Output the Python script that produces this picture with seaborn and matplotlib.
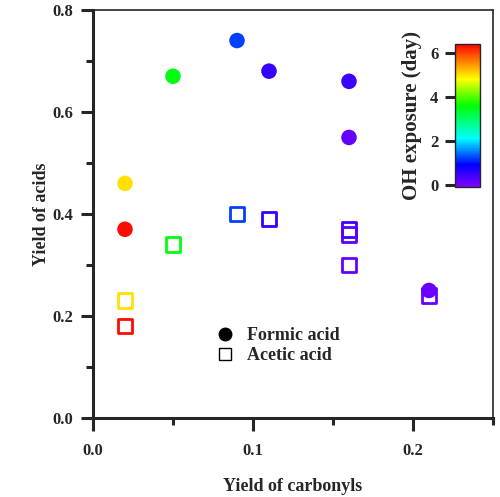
import matplotlib
matplotlib.use("Agg")
import matplotlib.pyplot as plt
from matplotlib.colors import LinearSegmentedColormap, Normalize
from matplotlib.cm import ScalarMappable
from matplotlib.lines import Line2D
import seaborn as sns
import pandas as pd

# formic acid
formic_carbonyl = [0.02, 0.02, 0.05, 0.09, 0.11, 0.16, 0.16, 0.21]
formic_yield = [0.46, 0.37, 0.67, 0.74, 0.68, 0.66, 0.55, 0.25]
formic_exposure = [5.0, 6.3, 3.5, 1.2, 0.5, 0.45, 0.15, 0.1]

# acetic acid
acetic_carbonyl = [0.02, 0.02, 0.05, 0.09, 0.11, 0.16, 0.16, 0.16, 0.21]
acetic_yield = [0.23, 0.18, 0.34, 0.40, 0.39, 0.37, 0.36, 0.30, 0.24]
acetic_exposure = [5.0, 6.3, 3.5, 1.2, 0.5, 0.45, 0.2, 0.15, 0.1]

vmin, vmax = -0.1, 6.4
stops = [(-0.1, "#8000ff"), (0.9, "#0000ff"), (2.1, "#00ffff"),
         (3.6, "#00ff00"), (4.8, "#ffff00"), (5.6, "#ff8000"), (6.4, "#ff0000")]
cmap = LinearSegmentedColormap.from_list(
    "oh", [((v - vmin) / (vmax - vmin), c) for v, c in stops])
norm = Normalize(vmin, vmax)

sns.set_style("ticks")
plt.rcParams["font.family"] = ["Liberation Serif", "DejaVu Serif"]
plt.rcParams["font.weight"] = "bold"

formic = pd.DataFrame({"x": formic_carbonyl, "y": formic_yield, "exp": formic_exposure})
acetic = pd.DataFrame({"x": acetic_carbonyl, "y": acetic_yield, "exp": acetic_exposure})

fig = plt.figure(figsize=(5, 4.97), dpi=100)
ax = fig.add_axes([0.186, 0.159, 0.80, 0.821])

sns.scatterplot(data=acetic, x="x", y="y", hue="exp", palette=cmap, hue_norm=norm,
                marker="s", s=110, linewidth=0, legend=False, ax=ax, zorder=2)
sq = ax.collections[-1]
sq.set_edgecolors(sq.get_facecolors())
sq.set_facecolors("none")
sq.set_linewidths(2.0)

sns.scatterplot(data=formic, x="x", y="y", hue="exp", palette=cmap, hue_norm=norm,
                marker="o", s=125, linewidth=0, legend=False, ax=ax, zorder=3)

ax.set_xlim(0, 0.25)
ax.set_ylim(0, 0.8)
ax.set_xticks([0.0, 0.1, 0.2])
ax.set_xticks([0.05, 0.15, 0.25], minor=True)
ax.set_yticks([0.0, 0.2, 0.4, 0.6, 0.8])
ax.set_yticks([0.1, 0.3, 0.5, 0.7], minor=True)
ax.set_xticklabels(["0.0", "0.1", "0.2"])
ax.set_yticklabels(["0.0", "0.2", "0.4", "0.6", "0.8"])

for side in ["left", "bottom"]:
    ax.spines[side].set_linewidth(2.2)
for side in ["top", "right"]:
    ax.spines[side].set_visible(True)
    ax.spines[side].set_linewidth(1.2)

ax.tick_params(axis="x", which="major", length=9, width=2.2, pad=9, labelsize=12)
ax.tick_params(axis="x", which="minor", length=5, width=2.2)
ax.tick_params(axis="y", which="major", length=9, width=2.2, pad=5, labelsize=12)
ax.tick_params(axis="y", which="minor", length=5, width=2.2)

ax.set_xlabel("Yield of carbonyls", fontsize=13, fontweight="bold", labelpad=14)
ax.set_ylabel("Yield of acids", fontsize=13, fontweight="bold", labelpad=2)

handles = [
    Line2D([], [], marker="o", color="black", linestyle="none", markersize=9),
    Line2D([], [], marker="s", markerfacecolor="none", markeredgecolor="black",
           markeredgewidth=1.0, linestyle="none", markersize=9),
]
ax.legend(handles, ["Formic acid", "Acetic acid"], loc="upper left",
          bbox_to_anchor=(0.262, 0.262), frameon=False, fontsize=13,
          handletextpad=0.6, labelspacing=0.15, handlelength=1.2)

cax = fig.add_axes([0.91, 0.624, 0.05, 0.288])
cb = fig.colorbar(ScalarMappable(norm=norm, cmap=cmap), cax=cax)
cb.set_ticks([0, 2, 4, 6])
cb.outline.set_linewidth(1.0)
cax.yaxis.set_ticks_position("left")
cax.yaxis.set_label_position("left")
cax.tick_params(length=7, width=2.2, labelsize=12, pad=5)
cb.set_label("OH exposure (day)", fontsize=15, fontweight="bold", labelpad=6)

fig.savefig("out.png", dpi=100)
